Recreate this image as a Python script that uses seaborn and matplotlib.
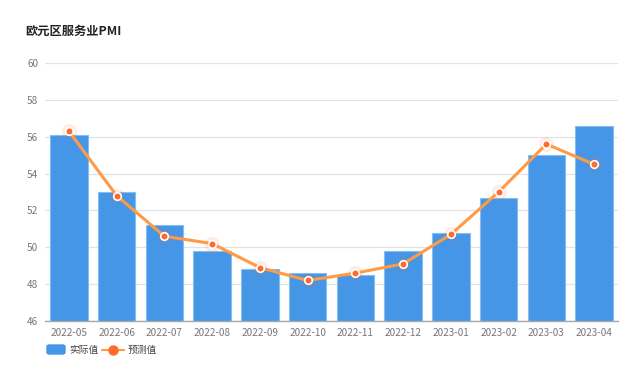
import matplotlib
matplotlib.use("Agg")
import numpy as np
import pandas as pd
import seaborn as sns
from matplotlib import pyplot as plt
from matplotlib.lines import Line2D
from matplotlib.patches import FancyBboxPatch

months = ["2022-05", "2022-06", "2022-07", "2022-08", "2022-09", "2022-10",
          "2022-11", "2022-12", "2023-01", "2023-02", "2023-03", "2023-04"]
actual = [56.1, 53.0, 51.2, 49.8, 48.8, 48.6, 48.5, 49.8, 50.8, 52.7, 55.0, 56.6]
forecast = [56.3, 52.8, 50.6, 50.2, 48.9, 48.2, 48.6, 49.1, 50.7, 53.0, 55.6, 54.5]
y_ticks = [46, 48, 50, 52, 54, 56, 58, 60]

df = pd.DataFrame({"month": months, "actual": actual, "forecast": forecast})

sns.set_style("white")
plt.rcParams["font.family"] = ["Noto Sans CJK SC", "DejaVu Sans"]

bar_color = "#4596E6"
line_color = "#FF9A45"
dot_color = "#FF6B2B"

fig = plt.figure(figsize=(6.4, 3.69), dpi=100)
ax = fig.add_axes([45 / 640, 1 - 321 / 369, 573 / 640, 258 / 369])

sns.barplot(data=df, x="month", y="actual", color=bar_color, width=0.79,
            saturation=1, edgecolor="#86BDF2", linewidth=0.8, ax=ax, zorder=2)
x = np.arange(len(months))
# soft glow behind the points
ax.scatter(x, forecast, s=120, color=dot_color, alpha=0.12, zorder=3, linewidths=0)
sns.lineplot(x=x, y=forecast, color=line_color, linewidth=2.2, ax=ax, zorder=4)
ax.scatter(x, forecast, s=30, color=dot_color, edgecolors="white",
           linewidths=1.2, zorder=5)

ax.set_ylim(46, 60)
ax.set_xlim(-0.5, len(months) - 0.5)
ax.set_yticks(y_ticks)
ax.grid(axis="y", color="#E3E3E3", linewidth=0.9, zorder=0)
ax.set_axisbelow(True)
for s in ["top", "right", "left"]:
    ax.spines[s].set_visible(False)
ax.spines["bottom"].set_color("#A8A8A8")
ax.spines["bottom"].set_linewidth(1.0)
ax.tick_params(axis="both", length=0, labelsize=7.2, colors="#777777")
ax.tick_params(axis="y", pad=5)
ax.tick_params(axis="x", pad=5)
ax.set_xlabel("")
ax.set_ylabel("")

fig.text(25 / 640, 1 - 31 / 369, "欧元区服务业PMI", fontsize=8.8,
         fontweight="bold", color="#222222", va="center")

# legend
fig.patches.append(FancyBboxPatch((47 / 640, 1 - 354 / 369), 18 / 640, 9 / 369,
                                  boxstyle="round,pad=0,rounding_size=0.004",
                                  transform=fig.transFigure, color=bar_color))
fig.text(69 / 640, 1 - 349.5 / 369, "实际值", fontsize=7, color="#444444", va="center")
fig.lines.append(Line2D([102 / 640, 124 / 640], [1 - 349.5 / 369] * 2,
                        transform=fig.transFigure, color=line_color, linewidth=1.5))
fig.lines.append(Line2D([113 / 640], [1 - 349.5 / 369], transform=fig.transFigure,
                        marker="o", markersize=6.5, color=dot_color,
                        markeredgecolor=dot_color))
fig.text(128 / 640, 1 - 349.5 / 369, "预测值", fontsize=7, color="#444444", va="center")

fig.savefig("out.png", dpi=100)
